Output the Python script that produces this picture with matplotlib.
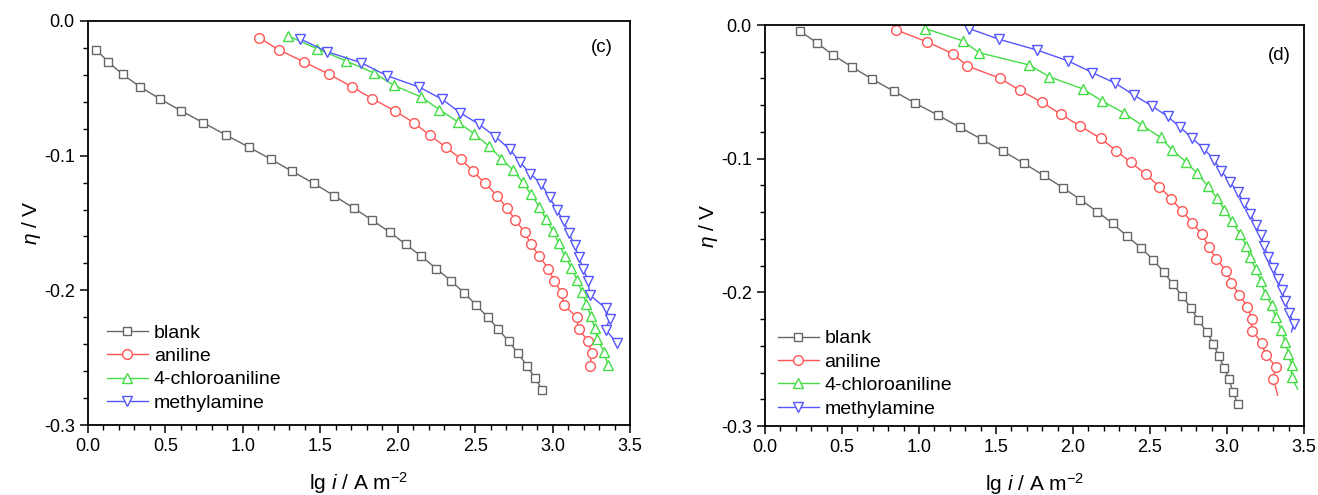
import matplotlib
matplotlib.use("Agg")
import matplotlib.pyplot as plt
from matplotlib.ticker import MultipleLocator

plt.rcParams['font.family'] = ['Liberation Sans', 'DejaVu Sans']
plt.rcParams['mathtext.fontset'] = 'custom'
plt.rcParams['mathtext.rm'] = 'Liberation Sans'
plt.rcParams['mathtext.it'] = 'Liberation Sans:italic'

labels = ["blank", "aniline", "4-chloroaniline", "methylamine"]

# panel (c)
c_blank_x = [0.054, 0.131, 0.223, 0.335, 0.463, 0.599, 0.744, 0.891, 1.038, 1.182, 1.318, 1.457, 1.588, 1.716, 1.833,
             1.948, 2.051, 2.152, 2.250, 2.343, 2.427, 2.506, 2.580, 2.650, 2.716, 2.778, 2.833, 2.887, 2.934]
c_blank_y = [-0.0215, -0.0304, -0.0396, -0.0488, -0.0577, -0.0666, -0.0755, -0.0847, -0.0936, -0.1027, -0.1116,
             -0.1205, -0.1297, -0.1389, -0.1478, -0.1567, -0.1658, -0.1747, -0.1839, -0.1928, -0.2017, -0.2109,
             -0.2198, -0.2289, -0.2378, -0.2468, -0.2559, -0.2651, -0.2740]
c_aniline_x = [1.103, 1.234, 1.395, 1.558, 1.703, 1.836, 1.980, 2.103, 2.206, 2.310, 2.411, 2.487, 2.563, 2.642,
               2.705, 2.759, 2.819, 2.860, 2.915, 2.972, 3.010, 3.058, 3.072, 3.156, 3.168, 3.232, 3.252, 3.243]
c_aniline_y = [-0.0124, -0.0215, -0.0304, -0.0396, -0.0488, -0.0577, -0.0666, -0.0755, -0.0847, -0.0936, -0.1027,
               -0.1116, -0.1205, -0.1297, -0.1389, -0.1478, -0.1567, -0.1658, -0.1747, -0.1839, -0.1928, -0.2017,
               -0.2109, -0.2198, -0.2289, -0.2378, -0.2468, -0.2559]
c_chloro_x = [1.294, 1.476, 1.667, 1.844, 1.975, 2.152, 2.269, 2.389, 2.492, 2.588, 2.670, 2.746, 2.806, 2.860,
              2.915, 2.958, 3.002, 3.040, 3.078, 3.122, 3.157, 3.190, 3.218, 3.245, 3.274, 3.289, 3.334, 3.356]
c_chloro_y = [-0.0111, -0.0205, -0.0297, -0.0384, -0.0478, -0.0564, -0.0658, -0.0750, -0.0837, -0.0928, -0.1022,
              -0.1109, -0.1195, -0.1287, -0.1379, -0.1473, -0.1559, -0.1651, -0.1745, -0.1832, -0.1921, -0.2011,
              -0.2100, -0.2190, -0.2281, -0.2365, -0.2458, -0.2552]
c_methyl_x = [1.367, 1.544, 1.762, 1.934, 2.138, 2.288, 2.403, 2.525, 2.630, 2.724, 2.787, 2.856, 2.927, 2.981,
              3.028, 3.071, 3.105, 3.142, 3.170, 3.198, 3.231, 3.239, 3.342, 3.368, 3.342, 3.415]
c_methyl_y = [-0.0131, -0.0228, -0.0309, -0.0408, -0.0490, -0.0582, -0.0681, -0.0767, -0.0858, -0.0953, -0.1044,
              -0.1133, -0.1211, -0.1310, -0.1402, -0.1486, -0.1575, -0.1665, -0.1756, -0.1840, -0.1933, -0.2034,
              -0.2132, -0.2213, -0.2292, -0.2390]

# panel (d), last point of aniline/chloro/methyl has no symbol
d_blank_x = [0.226, 0.335, 0.444, 0.564, 0.697, 0.836, 0.975, 1.122, 1.267, 1.408, 1.547, 1.681, 1.809, 1.934,
             2.048, 2.157, 2.258, 2.348, 2.441, 2.520, 2.588, 2.648, 2.710, 2.765, 2.814, 2.868, 2.912, 2.947,
             2.983, 3.013, 3.040, 3.070]
d_blank_y = [-0.0045, -0.0132, -0.0226, -0.0313, -0.0406, -0.0495, -0.0585, -0.0674, -0.0766, -0.0856, -0.0945,
             -0.1035, -0.1125, -0.1217, -0.1306, -0.1396, -0.1485, -0.1577, -0.1667, -0.1756, -0.1846, -0.1938,
             -0.2028, -0.2117, -0.2207, -0.2296, -0.2386, -0.2478, -0.2565, -0.2652, -0.2747, -0.2836]
d_aniline_x = [0.853, 1.054, 1.218, 1.313, 1.525, 1.653, 1.798, 1.920, 2.046, 2.179, 2.280, 2.375, 2.473, 2.561,
               2.637, 2.705, 2.773, 2.838, 2.882, 2.928, 2.996, 3.029, 3.078, 3.133, 3.160, 3.160, 3.225, 3.250,
               3.318, 3.301, 3.329]
d_aniline_y = [-0.0037, -0.0127, -0.0214, -0.0306, -0.0398, -0.0488, -0.0577, -0.0667, -0.0756, -0.0848, -0.0940,
               -0.1027, -0.1117, -0.1209, -0.1299, -0.1388, -0.1478, -0.1567, -0.1659, -0.1749, -0.1839, -0.1928,
               -0.2018, -0.2107, -0.2197, -0.2286, -0.2376, -0.2466, -0.2555, -0.2645, -0.2769]
d_chloro_x = [1.041, 1.286, 1.389, 1.716, 1.847, 2.064, 2.187, 2.332, 2.446, 2.569, 2.642, 2.732, 2.806, 2.874,
              2.934, 2.983, 3.032, 3.084, 3.124, 3.151, 3.187, 3.222, 3.247, 3.291, 3.315, 3.351, 3.378, 3.397,
              3.419, 3.419, 3.459]
d_chloro_y = [-0.0027, -0.0119, -0.0207, -0.0299, -0.0388, -0.0478, -0.0567, -0.0659, -0.0749, -0.0841, -0.0933,
              -0.1023, -0.1110, -0.1202, -0.1294, -0.1381, -0.1470, -0.1562, -0.1650, -0.1739, -0.1829, -0.1918,
              -0.2010, -0.2097, -0.2184, -0.2279, -0.2371, -0.2458, -0.2545, -0.2637, -0.2724]
d_methyl_x = [1.327, 1.520, 1.765, 1.969, 2.125, 2.274, 2.397, 2.511, 2.615, 2.697, 2.773, 2.852, 2.915, 2.964,
              3.018, 3.070, 3.111, 3.152, 3.187, 3.220, 3.241, 3.269, 3.301, 3.329, 3.356, 3.378, 3.405, 3.432, 3.419]
d_methyl_y = [-0.0027, -0.0107, -0.0187, -0.0269, -0.0356, -0.0435, -0.0525, -0.0605, -0.0684, -0.0766, -0.0846,
              -0.0928, -0.1008, -0.1095, -0.1172, -0.1251, -0.1331, -0.1413, -0.1495, -0.1574, -0.1654, -0.1737,
              -0.1819, -0.1898, -0.1985, -0.2068, -0.2152, -0.2234, -0.2296]

colors = ['#666666', '#ff5555', '#44dd44', '#5555ff']
markers = ['s', 'o', '^', 'v']
msizes = [6, 7, 7.5, 7.5]

fig = plt.figure(figsize=(13.18, 4.95), dpi=100)
ax_c = fig.add_axes([88 / 1318, 1 - 425 / 495, 542 / 1318, 404 / 495])
ax_d = fig.add_axes([765 / 1318, 1 - 426 / 495, 539 / 1318, 401 / 495])


def draw_panel(ax, series, tails, tag, tag_xy, leg_xy):
    for k, (xs, ys) in enumerate(series):
        if tails[k]:
            ax.plot(xs[-2:], ys[-2:], color=colors[k], lw=1)
            xs, ys = xs[:-1], ys[:-1]
        ax.plot(xs, ys, color=colors[k], lw=1, marker=markers[k], ms=msizes[k],
                mfc='white', mec=colors[k], mew=1, label=labels[k])
    ax.set_xlim(0, 3.5)
    ax.set_ylim(-0.3, 0)
    ax.xaxis.set_major_locator(MultipleLocator(0.5))
    ax.xaxis.set_minor_locator(MultipleLocator(0.1))
    ax.yaxis.set_major_locator(MultipleLocator(0.1))
    ax.yaxis.set_minor_locator(MultipleLocator(0.02))
    ax.xaxis.set_major_formatter(plt.FuncFormatter(lambda v, p: '%.1f' % v))
    ax.yaxis.set_major_formatter(plt.FuncFormatter(lambda v, p: '%.1f' % v if abs(v) > 1e-9 else '0.0'))
    ax.tick_params(which='major', direction='out', length=6, width=1.1, labelsize=13)
    ax.tick_params(which='minor', direction='out', length=3.5, width=1)
    for s in ax.spines.values():
        s.set_linewidth(1.3)
    ax.set_xlabel(r'lg $i$ / A m$^{-2}$', fontsize=15, labelpad=11)
    ax.set_ylabel(r'$\eta$ / V', fontsize=15, labelpad=1)
    ax.text(tag_xy[0], tag_xy[1], tag, transform=ax.transAxes, fontsize=13.5, ha='center', va='center')
    ax.legend(loc='upper left', bbox_to_anchor=leg_xy, borderaxespad=0, borderpad=0, frameon=False,
              fontsize=14, handlelength=2.1, handletextpad=0.3, labelspacing=0.3, numpoints=1)


draw_panel(ax_c, [(c_blank_x, c_blank_y), (c_aniline_x, c_aniline_y),
                  (c_chloro_x, c_chloro_y), (c_methyl_x, c_methyl_y)],
           [False, False, False, False], '(c)', (0.948, 0.934), (0.035, 0.25))
draw_panel(ax_d, [(d_blank_x, d_blank_y), (d_aniline_x, d_aniline_y),
                  (d_chloro_x, d_chloro_y), (d_methyl_x, d_methyl_y)],
           [False, True, True, True], '(d)', (0.955, 0.925), (0.024, 0.24))

fig.savefig('out.png', dpi=100)
